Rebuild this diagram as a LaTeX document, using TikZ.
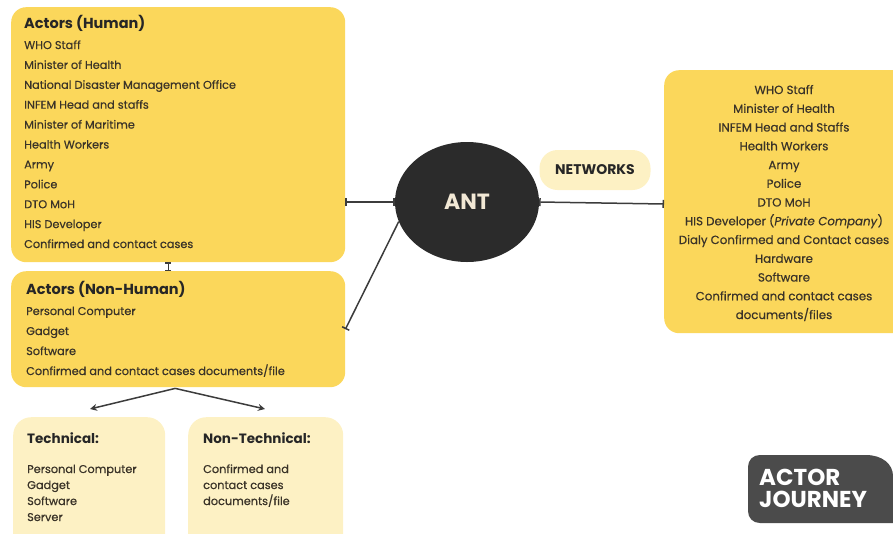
\documentclass[tikz,border=0pt]{standalone}
\usepackage{fontspec}
\setmainfont{Poppins}[UprightFeatures={FakeBold=0.5}, ItalicFeatures={FakeBold=0.5}]
\usetikzlibrary{arrows.meta,calc,shapes.geometric}
\definecolor{ybox}{HTML}{FBD75B}
\definecolor{lbox}{HTML}{FDF1C4}
\definecolor{antc}{HTML}{2B2B2B}
\definecolor{antt}{HTML}{F2E8D5}
\definecolor{tagc}{HTML}{4B4B4B}
\definecolor{txt}{HTML}{3A3328}
\definecolor{linec}{HTML}{3C3C3C}
\tikzset{
  ybx/.style={fill=ybox, rounded corners=15pt, anchor=north west, inner sep=0pt},
  lbx/.style={fill=lbox, rounded corners=18pt, anchor=north west, inner sep=0pt},
  item/.style={anchor=base west, inner sep=0pt, text=txt, font=\fontsize{11.3}{13}\selectfont},
  ritem/.style={anchor=base, inner sep=0pt, text=txt, font=\fontsize{11.8}{14}\selectfont},
  ttl/.style={anchor=base west, inner sep=0pt, text=black!85, font=\fontsize{14.5}{16}\selectfont\bfseries},
  sttl/.style={anchor=base west, inner sep=0pt, text=black!85, font=\fontsize{13.5}{15}\selectfont\bfseries},
  tagt/.style={anchor=base west, inner sep=0pt, text=white, font=\fontsize{23}{25}\selectfont\bfseries},
  conn/.style={draw=linec, line width=1.5pt},
  barends/.style={conn, {Bar[width=8pt,line width=1.5pt]}-{Bar[width=8pt,line width=1.5pt]}},
  barend/.style={conn, -{Bar[width=8pt,line width=1.5pt]}},
  arr/.style={conn, -{Stealth[length=7pt,width=7pt]}},
}
\begin{document}
\begin{tikzpicture}[x=1pt,y=-1pt]
\useasboundingbox (0,0) rectangle (893,533);
\clip (0,0) rectangle (893,533);
% boxes
\node[ybx, minimum width=334pt, minimum height=255pt] (human) at (11,7) {};
\node[ybx, minimum width=334pt, minimum height=116pt] (nonhuman) at (11,271) {};
\node[lbx, minimum width=152pt, minimum height=140pt] (tech) at (13,417) {};
\node[lbx, minimum width=155pt, minimum height=140pt] (nontech) at (188,417) {};
\node[ybx, minimum width=250pt, minimum height=263pt] (right) at (664,70) {};
\node[ellipse, fill=antc, minimum width=144pt, minimum height=120pt, inner sep=0pt, text=antt, font=\fontsize{22}{24}\selectfont\bfseries] (ant) at (467,202) {ANT};
\node[fill=lbox, rounded corners=18pt, minimum width=111pt, minimum height=40pt, inner sep=0pt, font=\fontsize{14}{16}\selectfont\bfseries, text=black!85] (net) at (595,170) {NETWORKS};
% tag
\path[fill=tagc] (760,455) -- (866,455) .. controls (882,455) and (893,464) .. (893,476) -- (893,523) -- (760,523) .. controls (753,523) and (748,518) .. (748,511) -- (748,467) .. controls (748,460) and (753,455) .. (760,455);
\node[tagt] (tag1) at (759,485) {ACTOR};
\node[tagt] (tag2) at (759,507) {JOURNEY};
% human text
\node[ttl] (ht) at (24,28) {Actors (Human)};
\foreach \t [count=\i from 0] in {WHO Staff, Minister of Health, National Disaster Management Office, INFEM Head and staffs, Minister of Maritime, Health Workers, Army, Police, DTO MoH, HIS Developer, Confirmed and contact cases}
  \node[item] (h\i) at (24,{49+19.9*\i}) {\t};
% non-human text
\node[ttl] (nt) at (26,294) {Actors (Non-Human)};
\foreach \t [count=\i from 0] in {Personal Computer, Gadget, Software, Confirmed and contact cases documents/file}
  \node[item] (n\i) at (26,{315+20*\i}) {\t};
% technical
\node[sttl] (tt) at (27,443) {Technical:};
\foreach \t [count=\i from 0] in {Personal Computer, Gadget, Software, Server}
  \node[item] (t\i) at (27,{473+16*\i}) {\t};
\node[sttl] (ntt) at (203,443) {Non-Technical:};
\foreach \t [count=\i from 0] in {Confirmed and, contact cases, documents/file}
  \node[item] (nt\i) at (203,{473+16*\i}) {\t};
% right box text
\foreach \t [count=\i from 0] in {WHO Staff, Minister of Health, INFEM Head and Staffs, Health Workers, Army, Police, DTO MoH, {HIS Developer (\textit{Private Company})}, Dialy Confirmed and Contact cases, Hardware, Software, Confirmed and contact cases, documents/files}
  \node[ritem] (r\i) at (784,{94+18.75*\i}) {\t};
% connectors
\draw[barends] (human.east |- ant.west) -- (ant.west);
\draw[barends] (ant.east) -- ($(right.west |- ant.east)+(0,2)$);
\draw[barend] (ant.196) -- (nonhuman.east);
\draw[draw=linec, line width=1.2pt, {Bar[width=6pt,line width=1.2pt]}-{Bar[width=6pt,line width=1.2pt]}] ($(human.south)+(-10,0)$) -- ($(nonhuman.north)+(-10,0)$);
\coordinate (tl) at (90,409);
\coordinate (tr) at (265,409);
\draw[arr] ($(nonhuman.south)+(-3,1)$) -- (tl);
\draw[arr] ($(nonhuman.south)+(-3,1)$) -- (tr);
\end{tikzpicture}
\end{document}
